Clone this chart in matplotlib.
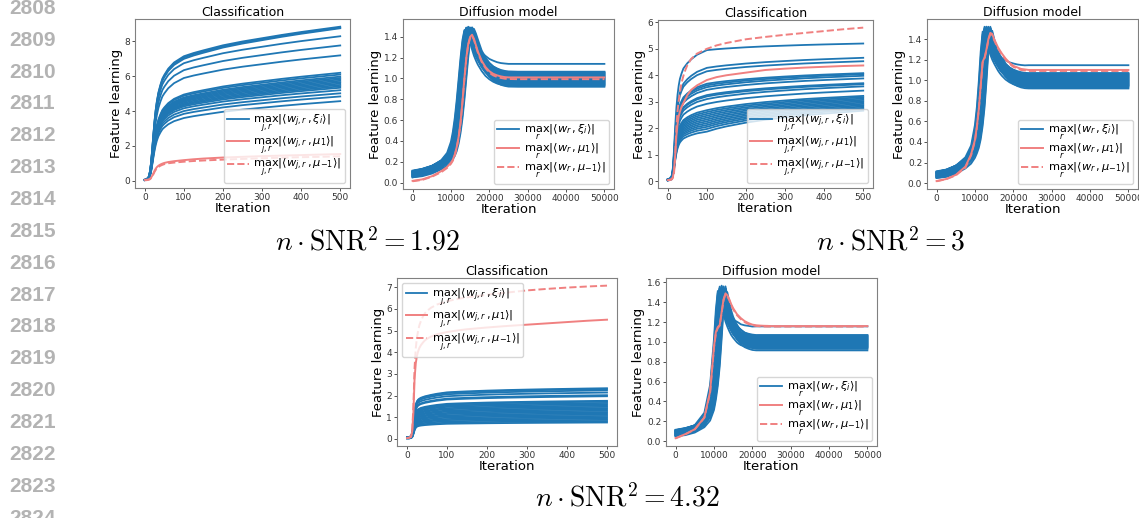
import numpy as np
import matplotlib
matplotlib.use("Agg")
import matplotlib.pyplot as plt
from matplotlib.ticker import MultipleLocator

BLUE = "#1f77b4"
RED = "#f08080"

# ---------------- classification data ----------------
t_cls = [0, 5, 10, 13, 16, 19, 22, 25, 28, 31, 35, 40, 45, 50, 60, 75, 100,
         125, 150, 200, 250, 300, 350, 400, 450, 500]

# panel n*SNR^2 = 1.92
p1_rise = [0.008, 0.012, 0.03, 0.07, 0.14, 0.25, 0.37, 0.48, 0.57, 0.64, 0.71, 0.77, 0.82, 0.85, 0.90, 0.95, 1.0]
p1_late = [0, 0.11, 0.20, 0.37, 0.50, 0.61, 0.72, 0.82, 0.91, 1.0]
p1_blue_end = [8.85, 8.80, 8.76, 8.30, 7.77, 7.20, 6.20, 6.10, 5.98, 5.90, 5.82, 5.74, 5.66,
               5.58, 5.50, 5.42, 5.34, 5.20, 5.02, 4.84, 4.57]
p1_blue_mid = [7.15, 7.08, 7.00, 6.75, 6.35, 5.90, 4.95, 4.88, 4.78, 4.72, 4.66, 4.60, 4.54,
               4.47, 4.40, 4.34, 4.27, 4.16, 4.00, 3.84, 3.60]
p1_red_solid = [0.05, 0.05, 0.07, 0.10, 0.17, 0.28, 0.42, 0.57, 0.69, 0.78, 0.86, 0.93, 0.98, 1.02, 1.07,
                1.12, 1.18, 1.23, 1.27, 1.33, 1.37, 1.41, 1.44, 1.47, 1.50, 1.53]
p1_red_dash = [0.02, 0.03, 0.05, 0.08, 0.14, 0.24, 0.37, 0.51, 0.62, 0.71, 0.79, 0.86, 0.91, 0.95, 1.00,
               1.04, 1.09, 1.13, 1.16, 1.21, 1.25, 1.29, 1.32, 1.35, 1.37, 1.40]

# panel n*SNR^2 = 3
p3_rise = [0.015, 0.02, 0.04, 0.10, 0.24, 0.42, 0.56, 0.66, 0.73, 0.78, 0.82, 0.86, 0.88, 0.90, 0.93, 0.965, 1.0]
p3_late = [0, 0.14, 0.25, 0.43, 0.57, 0.68, 0.78, 0.86, 0.93, 1.0]
p3_blue_end = [5.20, 4.66, 4.53, 4.08, 4.04, 3.98, 3.88, 3.70, 3.66, 3.58, 3.42, 3.22, 3.17, 3.12,
               3.07, 3.02, 2.97, 2.92, 2.87, 2.82, 2.77, 2.72, 2.66]
p3_blue_mid = [4.95, 4.28, 4.15, 3.68, 3.62, 3.55, 3.45, 3.25, 3.20, 3.10, 2.92, 2.68, 2.61, 2.54,
               2.47, 2.40, 2.33, 2.26, 2.19, 2.12, 2.05, 1.97, 1.87]
p3_red_solid = [0.04, 0.05, 0.08, 0.15, 0.40, 1.00, 1.70, 2.15, 2.45, 2.62, 2.80, 2.95, 3.10, 3.25, 3.45,
                3.62, 3.82, 3.93, 4.00, 4.10, 4.20, 4.25, 4.29, 4.32, 4.35, 4.37]
p3_red_dash = [0.03, 0.04, 0.06, 0.12, 0.30, 0.95, 2.00, 2.65, 3.05, 3.35, 3.70, 3.98, 4.20, 4.38, 4.62,
               4.82, 5.00, 5.13, 5.22, 5.36, 5.45, 5.53, 5.60, 5.67, 5.74, 5.80]

# panel n*SNR^2 = 4.32
p5_rise = [0.04, 0.04, 0.06, 0.12, 0.32, 0.58, 0.74, 0.81, 0.845, 0.865, 0.885, 0.90, 0.915, 0.925, 0.945, 0.97, 1.0]
p5_late = [0, 0.13, 0.24, 0.42, 0.56, 0.67, 0.77, 0.85, 0.93, 1.0]
p5_blue_end = [2.34, 2.30, 2.24, 2.14, 2.02, 1.97, 1.76, 1.72, 1.66, 1.60, 1.54, 1.48, 1.42,
               1.36, 1.30, 1.24, 1.18, 1.12, 1.06, 1.00, 0.94, 0.88, 0.82, 0.76]
p5_blue_mid = [2.15, 2.12, 2.06, 1.97, 1.86, 1.82, 1.62, 1.58, 1.53, 1.48, 1.42, 1.37, 1.31,
               1.26, 1.20, 1.15, 1.09, 1.04, 0.98, 0.92, 0.87, 0.81, 0.75, 0.70]
p5_red_solid = [0.04, 0.05, 0.10, 0.35, 1.20, 2.80, 3.50, 3.85, 4.05, 4.20, 4.33, 4.45, 4.55, 4.62, 4.72,
                4.83, 4.93, 5.00, 5.06, 5.14, 5.21, 5.27, 5.33, 5.39, 5.45, 5.50]
p5_red_dash = [0.05, 0.06, 0.10, 0.40, 1.50, 3.30, 4.20, 4.70, 5.00, 5.25, 5.45, 5.65, 5.80, 5.90, 6.05,
               6.20, 6.35, 6.45, 6.53, 6.65, 6.75, 6.85, 6.92, 6.98, 7.03, 7.07]

# ---------------- diffusion data ----------------
t_dif = [0, 2500, 5000, 7500, 9000, 10000, 10500, 11000, 11500, 12000, 12500, 13000, 13500, 14000,
         14500, 15000, 15500, 16000, 16500, 17000, 18000, 19000, 20000, 21000, 22000, 23000, 24000,
         25000, 27500, 30000, 35000, 40000, 45000, 50000]

dif_start_list = [0.11, 0.07, 0.09, 0.06, 0.10, 0.08, 0.05, 0.115, 0.07, 0.09, 0.06, 0.10, 0.08, 0.11, 0.05,
                  0.07, 0.09, 0.06, 0.10, 0.08, 0.11, 0.07, 0.09, 0.05, 0.10, 0.08, 0.06, 0.09, 0.07, 0.10]
dif_shift_list = [0, 600, -300, 900, 200, -600, 1200, 400, -200, 800, 100, -400, 1000, 300, -700,
                  500, 0, 700, -100, 1100, 200, -500, 900, 400, -300, 600, 100, -800, 800, 300]

# panel n*SNR^2 = 1.92
p2_base = [0.08, 0.10, 0.13, 0.18, 0.23, 0.29, 0.34, 0.42, 0.53, 0.68, 0.87, 1.08, 1.28, 1.43, 1.49, 1.46,
           1.40, 1.34, 1.28, 1.23, 1.16, 1.11, 1.07, 1.045, 1.025, 1.012, 1.005, 1.0, 1.0, 1.0, 1.0, 1.0, 1.0, 1.0]
p2_start_w = [1, 1, 1, 0.95, 0.85, 0.70, 0.55, 0.40, 0.25, 0.12, 0.05, 0, 0, 0, 0, 0, 0, 0, 0, 0, 0, 0, 0,
              0, 0, 0, 0, 0, 0, 0, 0, 0, 0, 0]
p2_plat_w = [0, 0, 0, 0, 0, 0, 0, 0, 0, 0, 0, 0, 0, 0, 0.05, 0.15, 0.25, 0.35, 0.44, 0.52, 0.65, 0.76,
             0.84, 0.90, 0.94, 0.97, 0.99, 1, 1, 1, 1, 1, 1, 1]
p2_plateau = [1.14, 1.065, 1.06, 1.055, 1.05, 1.045, 1.04, 1.035, 1.03, 1.025, 1.02, 1.015, 1.01, 1.005, 1.0,
              0.995, 0.99, 0.985, 0.98, 0.975, 0.97, 0.965, 0.96, 0.955, 0.95, 0.945, 0.94, 0.935, 0.93, 0.92]
p2_red_solid = [0.016, 0.03, 0.06, 0.11, 0.15, 0.19, 0.22, 0.27, 0.34, 0.44, 0.58, 0.78, 1.0, 1.2, 1.33, 1.40,
                1.42, 1.38, 1.32, 1.26, 1.17, 1.11, 1.07, 1.045, 1.03, 1.02, 1.013, 1.01, 1.01, 1.01, 1.01,
                1.01, 1.01, 1.01]
p2_red_dash = [0.012, 0.025, 0.055, 0.10, 0.14, 0.18, 0.21, 0.26, 0.33, 0.43, 0.57, 0.77, 0.99, 1.19, 1.32,
               1.39, 1.41, 1.37, 1.31, 1.25, 1.16, 1.10, 1.055, 1.03, 1.015, 1.005, 0.998, 0.995, 0.993,
               0.993, 0.993, 0.993, 0.993, 0.993]

# panel n*SNR^2 = 3
p4_base = [0.08, 0.10, 0.14, 0.20, 0.28, 0.38, 0.48, 0.62, 0.82, 1.10, 1.40, 1.52, 1.45, 1.36, 1.30, 1.25,
           1.21, 1.18, 1.15, 1.12, 1.08, 1.05, 1.03, 1.015, 1.005, 1.0, 1.0, 1.0, 1.0, 1.0, 1.0, 1.0, 1.0, 1.0]
p4_start_w = [1, 1, 1, 0.90, 0.75, 0.55, 0.40, 0.25, 0.12, 0.05, 0, 0, 0, 0, 0, 0, 0, 0, 0, 0, 0, 0, 0,
              0, 0, 0, 0, 0, 0, 0, 0, 0, 0, 0]
p4_plat_w = [0, 0, 0, 0, 0, 0, 0, 0, 0, 0, 0, 0, 0.10, 0.20, 0.30, 0.38, 0.46, 0.53, 0.60, 0.66, 0.76, 0.85,
             0.91, 0.95, 0.98, 0.99, 1, 1, 1, 1, 1, 1, 1, 1]
p4_plateau = [1.146, 1.07, 1.065, 1.06, 1.055, 1.05, 1.045, 1.04, 1.035, 1.03, 1.025, 1.02, 1.015, 1.01,
              1.005, 1.0, 0.995, 0.99, 0.985, 0.98, 0.975, 0.97, 0.965, 0.96, 0.955, 0.95, 0.945, 0.94, 0.93, 0.92]
p4_red_solid = [0.02, 0.04, 0.08, 0.16, 0.28, 0.42, 0.55, 0.72, 0.95, 1.18, 1.22, 1.30, 1.40, 1.46, 1.45,
                1.40, 1.36, 1.32, 1.29, 1.26, 1.21, 1.17, 1.14, 1.125, 1.11, 1.105, 1.10, 1.10, 1.10, 1.10,
                1.10, 1.10, 1.10, 1.10]
p4_red_dash = [0.018, 0.038, 0.075, 0.15, 0.27, 0.41, 0.54, 0.71, 0.94, 1.17, 1.21, 1.29, 1.39, 1.45, 1.44,
               1.39, 1.35, 1.31, 1.28, 1.25, 1.20, 1.16, 1.13, 1.115, 1.10, 1.095, 1.09, 1.09, 1.09, 1.09,
               1.09, 1.09, 1.09, 1.09]

# panel n*SNR^2 = 4.32
p6_base = [0.08, 0.10, 0.13, 0.20, 0.35, 0.62, 0.85, 1.15, 1.45, 1.56, 1.45, 1.35, 1.27, 1.21, 1.17, 1.13,
           1.10, 1.08, 1.06, 1.04, 1.02, 1.01, 1.0, 1.0, 1.0, 1.0, 1.0, 1.0, 1.0, 1.0, 1.0, 1.0, 1.0, 1.0]
p6_start_w = [1, 1, 0.95, 0.80, 0.50, 0.25, 0.10, 0, 0, 0, 0, 0, 0, 0, 0, 0, 0, 0, 0, 0, 0, 0, 0,
              0, 0, 0, 0, 0, 0, 0, 0, 0, 0, 0]
p6_plat_w = [0, 0, 0, 0, 0, 0, 0, 0, 0, 0.05, 0.15, 0.28, 0.40, 0.50, 0.58, 0.66, 0.73, 0.79, 0.84, 0.88,
             0.94, 0.97, 0.99, 1, 1, 1, 1, 1, 1, 1, 1, 1, 1, 1]
p6_plateau = [1.157, 1.07, 1.065, 1.06, 1.055, 1.05, 1.045, 1.04, 1.035, 1.03, 1.025, 1.02, 1.015, 1.01,
              1.005, 1.0, 0.995, 0.99, 0.985, 0.98, 0.975, 0.97, 0.965, 0.96, 0.955, 0.95, 0.945, 0.94, 0.93, 0.915]
p6_red_solid = [0.03, 0.07, 0.12, 0.24, 0.50, 0.95, 1.10, 1.15, 1.17, 1.30, 1.43, 1.49, 1.47, 1.43, 1.38,
                1.34, 1.31, 1.28, 1.26, 1.24, 1.21, 1.19, 1.175, 1.168, 1.165, 1.163, 1.162, 1.16, 1.16,
                1.16, 1.16, 1.16, 1.16, 1.16]
p6_red_dash = [0.028, 0.068, 0.118, 0.235, 0.49, 0.94, 1.09, 1.14, 1.165, 1.29, 1.42, 1.48, 1.46, 1.42,
               1.37, 1.33, 1.30, 1.27, 1.25, 1.23, 1.20, 1.18, 1.168, 1.162, 1.158, 1.156, 1.155, 1.155,
               1.155, 1.155, 1.155, 1.155, 1.155, 1.155]

cls_labels = [r"$\max_{j,r}|\langle w_{j,r}, \xi_i\rangle|$",
              r"$\max_{j,r}|\langle w_{j,r}, \mu_1\rangle|$",
              r"$\max_{j,r}|\langle w_{j,r}, \mu_{-1}\rangle|$"]
dif_labels = [r"$\max_{r}|\langle w_{r}, \xi_i\rangle|$",
              r"$\max_{r}|\langle w_{r}, \mu_1\rangle|$",
              r"$\max_{r}|\langle w_{r}, \mu_{-1}\rangle|$"]

captions = [r"$n\cdot\mathrm{SNR}^2=1.92$", r"$n\cdot\mathrm{SNR}^2=3$", r"$n\cdot\mathrm{SNR}^2=4.32$"]
line_numbers = list(range(2808, 2825))

W, H = 1139, 518
fig = plt.figure(figsize=(W / 100, H / 100), dpi=100)


def box(l, t, r, b):
    return [l / W, 1 - b / H, (r - l) / W, (b - t) / H]


def style(ax, title, ystep):
    ax.set_title(title, fontsize=9, pad=2)
    ax.set_xlabel("Iteration", fontsize=9.5, labelpad=0)
    ax.set_ylabel("Feature learning", fontsize=9.5, labelpad=1)
    ax.tick_params(labelsize=6.5, length=2, width=0.6, pad=1.5, colors="#333333")
    ax.yaxis.set_major_locator(MultipleLocator(ystep))
    for s in ax.spines.values():
        s.set_color("#808080")
        s.set_linewidth(0.8)


def add_legend(ax, loc):
    ax.legend(loc=loc, fontsize=8.2, borderpad=0.3, labelspacing=0.0,
              handlelength=1.9, handletextpad=0.4, borderaxespad=0.45)


def cls_panel(rect, rise, late, mids, ends, red_s, red_d, ystep, loc):
    ax = fig.add_axes(box(*rect))
    for k, (m, e) in enumerate(zip(mids, ends)):
        y = [m * r for r in rise] + [m + (e - m) * g for g in late[1:]]
        ax.plot(t_cls, y, color=BLUE, lw=1.3, label=cls_labels[0] if k == 0 else None)
    ax.plot(t_cls, red_s, color=RED, lw=1.4, label=cls_labels[1])
    ax.plot(t_cls, red_d, color=RED, lw=1.4, ls="--", label=cls_labels[2])
    style(ax, "Classification", ystep)
    add_legend(ax, loc)
    return ax


def dif_panel(rect, base, sw, pw, plateaus, red_s, red_d, loc):
    ax = fig.add_axes(box(*rect))
    t = np.array(t_dif, dtype=float)
    for k, q in enumerate(plateaus):
        s0 = dif_start_list[k]
        dt = dif_shift_list[k]
        ts = t - dt
        y = (np.interp(ts, t_dif, base) + (s0 - 0.08) * np.interp(ts, t_dif, sw)
             + (q - 1.0) * np.interp(ts, t_dif, pw))
        ax.plot(t_dif, y, color=BLUE, lw=1.3, label=dif_labels[0] if k == 0 else None)
    ax.plot(t_dif, red_s, color=RED, lw=1.4, label=dif_labels[1])
    ax.plot(t_dif, red_d, color=RED, lw=1.4, ls="--", label=dif_labels[2])
    style(ax, "Diffusion model", 0.2)
    add_legend(ax, loc)
    return ax


cls_panel((135, 19, 350, 188), p1_rise, p1_late, p1_blue_mid, p1_blue_end, p1_red_solid, p1_red_dash, 2, "lower right")
dif_panel((403, 19, 614, 189), p2_base, p2_start_w, p2_plat_w, p2_plateau, p2_red_solid, p2_red_dash, "lower right")
cls_panel((658, 20, 873, 188), p3_rise, p3_late, p3_blue_mid, p3_blue_end, p3_red_solid, p3_red_dash, 1, "lower right")
dif_panel((927, 19, 1138, 189), p4_base, p4_start_w, p4_plat_w, p4_plateau, p4_red_solid, p4_red_dash, "lower right")
cls_panel((397, 278, 617, 446), p5_rise, p5_late, p5_blue_mid, p5_blue_end, p5_red_solid, p5_red_dash, 1, "upper left")
dif_panel((666, 278, 877, 446), p6_base, p6_start_w, p6_plat_w, p6_plateau, p6_red_solid, p6_red_dash, "lower right")

for (cx, cy), cap in zip([(367, 242), (891, 242), (627, 498)], captions):
    fig.text(cx / W, 1 - cy / H, cap, fontsize=20, ha="center", va="center", math_fontfamily="cm")

for k, num in enumerate(line_numbers):
    fig.text(9 / W, 1 - (8.3 + 31.87 * k) / H, str(num), fontsize=15, fontweight="bold",
             family="Liberation Sans", color="#b3b3b3", ha="left", va="center")

fig.savefig("out.png", dpi=100)
